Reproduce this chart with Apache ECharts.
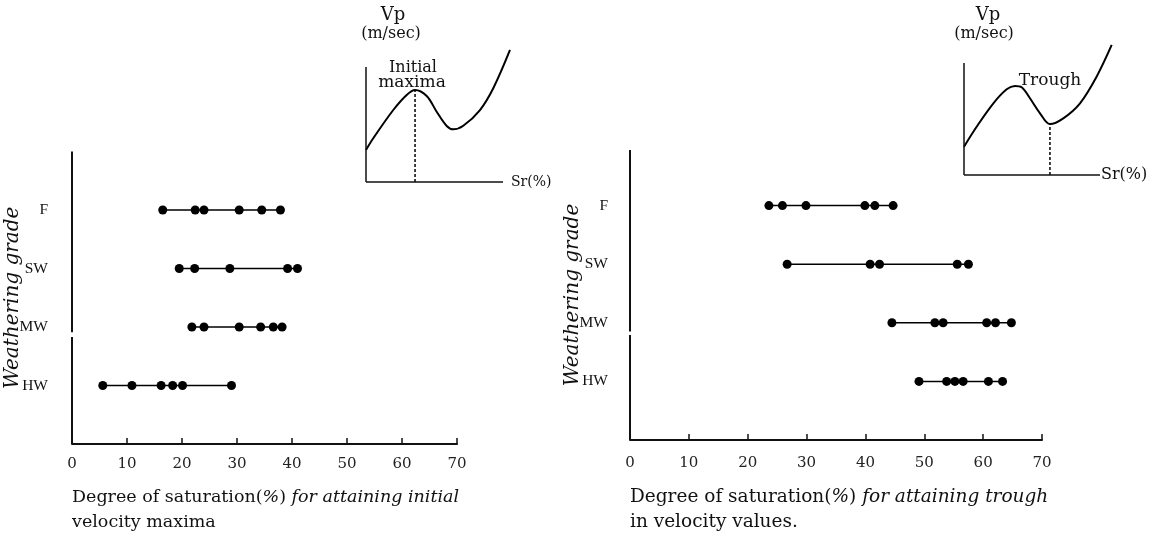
<!DOCTYPE html>
<html>
<head>
<meta charset="utf-8">
<title>Degree of saturation by weathering grade</title>
<script src="https://cdn.jsdelivr.net/npm/echarts@6/dist/echarts.min.js"></script>
<style>
  html, body { margin: 0; padding: 0; background: #fff; }
  #main { width: 1153px; height: 543px; }
</style>
</head>
<body>
<div id="main"></div>
<script>
// weathering grades, bottom to top (1 = HW ... 4 = F)
const gradeNames = ['', 'HW', 'MW', 'SW', 'F'];
const xTicks = [0, 10, 20, 30, 40, 50, 60, 70];

// left panel: Sr (%) at the initial velocity maxima
const maxF = [16.5, 22.4, 24.0, 30.4, 34.5, 37.9];
const maxSW = [19.5, 22.3, 28.7, 39.2, 41.0];
const maxMW = [21.8, 24.0, 30.4, 34.3, 36.6, 38.2];
const maxHW = [5.6, 10.9, 16.2, 18.3, 20.1, 29.0];

// right panel: Sr (%) at the trough in velocity values
const troughF = [23.6, 25.9, 29.9, 39.9, 41.6, 44.7];
const troughSW = [26.7, 40.8, 42.4, 55.6, 57.5];
const troughMW = [44.5, 51.8, 53.2, 60.6, 62.1, 64.8];
const troughHW = [49.1, 53.8, 55.2, 56.6, 60.9, 63.3];

// sketch curves of Vp against Sr (arbitrary units, axes run 0..100)
const sketch1X = [0, 5.3, 19.9, 29.7, 35.8, 44.3, 51.6, 58.9, 63.7, 71.0, 83.2, 92.9, 105.1];
const sketch1Y = [27.8, 38.0, 62.6, 75.7, 80.0, 74.8, 61.1, 48.7, 45.8, 48.9, 62.6, 81.5, 114.8];
const sketch2X = [0, 9.3, 21.6, 31.4, 37.5, 42.4, 48.5, 55.9, 63.2, 73.0, 85.3, 97.5, 108.6];
const sketch2Y = [25.3, 43.1, 64.0, 76.5, 79.5, 78.3, 68.5, 55.1, 45.5, 50.6, 64.0, 87.8, 116.1];
const peakAt = [35.8, 80.0];
const troughAt = [63.2, 45.5];

// gap in the vertical axis between MW and HW
const leftBreak = [1.83, 1.91];
const rightBreak = [1.79, 1.85];

const serif = 'DejaVu Serif';
const ink = '#111';

function rowData(values, grade) {
    return values.map(v => [v, grade]);
}

function mainX(grid) {
    return {
        type: 'value', gridIndex: grid, min: 0, max: 70, interval: 10,
        axisLine: { show: true, onZero: false, lineStyle: { color: ink, width: 2 } },
        axisTick: { show: true, inside: true, length: 6, lineStyle: { color: ink, width: 1.5 } },
        axisLabel: {
            color: '#222', fontFamily: serif, fontSize: 15, margin: grid === 0 ? 13 : 16,
            formatter: v => xTicks.indexOf(v) >= 0 ? String(v) : ''
        },
        splitLine: { show: false }
    };
}

function mainY(grid, max, gap, margin) {
    return {
        type: 'value', gridIndex: grid, min: 0, max: max, interval: 1,
        name: 'Weathering grade', nameLocation: 'middle', nameGap: gap, nameRotate: 90,
        nameMoveOverlap: false,
        nameTextStyle: { fontFamily: serif, fontStyle: 'italic', fontSize: 20, color: ink },
        axisLine: { show: false }, axisTick: { show: false }, splitLine: { show: false },
        axisLabel: {
            color: ink, fontFamily: 'Liberation Serif', fontSize: 15.5, margin: margin,
            formatter: v => (Number.isInteger(v) && gradeNames[v]) ? gradeNames[v] : ''
        }
    };
}

// sketch axes: lines are drawn as markLines so the curve may run past their ends
function sketchAxis(grid, max) {
    return {
        type: 'value', gridIndex: grid, min: 0, max: max,
        axisLine: { show: false }, axisTick: { show: false },
        axisLabel: { show: false }, splitLine: { show: false }
    };
}

function rowSeries(values, grade, xi, brk, max) {
    const s = {
        type: 'line', xAxisIndex: xi, yAxisIndex: xi,
        data: rowData(values, grade),
        symbol: 'circle', symbolSize: 9,
        itemStyle: { color: '#000' },
        lineStyle: { color: '#000', width: 1.5 },
        silent: true
    };
    if (brk) {
        s.markLine = {
            silent: true, symbol: ['none', 'none'],
            label: { show: false },
            lineStyle: { color: ink, width: 2, type: 'solid' },
            data: [
                [{ coord: [0, 0] }, { coord: [0, brk[0]] }],
                [{ coord: [0, brk[1]] }, { coord: [0, max] }]
            ]
        };
    }
    return s;
}

function sketchSeries(xs, ys, grid, mark) {
    return [{
        type: 'line', xAxisIndex: grid, yAxisIndex: grid,
        data: xs.map((x, i) => [x, ys[i]]),
        smooth: 0.35, showSymbol: false, clip: false,
        lineStyle: { color: '#000', width: 2 }, silent: true,
        markLine: {
            silent: true, symbol: ['none', 'none'],
            label: { show: false },
            lineStyle: { color: ink, width: 1.5, type: 'solid' },
            data: [
                [{ coord: [0, 0] }, { coord: [100, 0] }],
                [{ coord: [0, 0] }, { coord: [0, 100] }]
            ]
        }
    }, {
        type: 'line', xAxisIndex: grid, yAxisIndex: grid,
        data: [[mark[0], 0], [mark[0], mark[1]]],
        showSymbol: false, clip: false,
        lineStyle: { color: '#000', width: 1.5, type: [3, 2] }, silent: true
    }];
}

const leftMax = 5.0, rightMax = 4.95;

function label(text, x, y, size) {
    return { type: 'text', x: x, y: y, style: { text: text, font: size + 'px "DejaVu Serif"', fill: ink, align: 'center', verticalAlign: 'middle' } };
}

function caption(x, first, second, size) {
    return {
        type: 'text', x: x, y: 485,
        style: {
            text: '{a|Degree of saturation(}{b|%}{a|) }{b|' + first + '}\n{a|' + second + '}',
            fill: ink,
            rich: {
                a: { fontFamily: serif, fontSize: size, lineHeight: 25, fill: ink },
                b: { fontFamily: serif, fontSize: size, fontStyle: 'italic', lineHeight: 25, fill: ink }
            }
        }
    };
}

let option = {
    animation: false,
    backgroundColor: '#fff',
    grid: [
        { left: 72, right: 696, top: 444 - leftMax * 58.5, bottom: 99 },
        { left: 630, right: 111, top: 440 - rightMax * 58.6, bottom: 103 },
        { left: 366, top: 182 - 120 * 1.15, width: 110 * 1.37, height: 120 * 1.15 },
        { left: 964, top: 175 - 120 * 1.12, width: 110 * 1.36, height: 120 * 1.12 }
    ],
    xAxis: [mainX(0), mainX(1), sketchAxis(2, 110), sketchAxis(3, 110)],
    yAxis: [
        mainY(0, leftMax, 49, 24),
        mainY(1, rightMax, 47, 22),
        sketchAxis(2, 120),
        sketchAxis(3, 120)
    ],
    series: [
        rowSeries(maxF, 4, 0, leftBreak, leftMax),
        rowSeries(maxSW, 3, 0),
        rowSeries(maxMW, 2, 0),
        rowSeries(maxHW, 1, 0),
        rowSeries(troughF, 4, 1, rightBreak, rightMax),
        rowSeries(troughSW, 3, 1),
        rowSeries(troughMW, 2, 1),
        rowSeries(troughHW, 1, 1)
    ].concat(sketchSeries(sketch1X, sketch1Y, 2, peakAt), sketchSeries(sketch2X, sketch2Y, 3, troughAt)),
    graphic: [
        label('Vp', 393, 15, 18),
        label('(m/sec)', 391, 34, 16),
        label('Initial', 413, 68, 16),
        label('maxima', 412, 83, 17),
        { type: 'text', x: 511, y: 182, style: { text: 'Sr(%)', font: '14px "DejaVu Serif"', fill: ink, align: 'left', verticalAlign: 'middle' } },
        label('Vp', 988, 15, 18),
        label('(m/sec)', 984, 34, 16),
        label('Trough', 1050, 81, 17),
        { type: 'text', x: 1101, y: 175, style: { text: 'Sr(%)', font: '16px "DejaVu Serif"', fill: ink, align: 'left', verticalAlign: 'middle' } },
        caption(72, 'for attaining initial', 'velocity maxima', 17.5),
        caption(630, 'for attaining trough', 'in velocity values.', 18.5)
    ]
};

let chart = echarts.init(document.getElementById('main'));
chart.setOption(option);
</script>
</body>
</html>
